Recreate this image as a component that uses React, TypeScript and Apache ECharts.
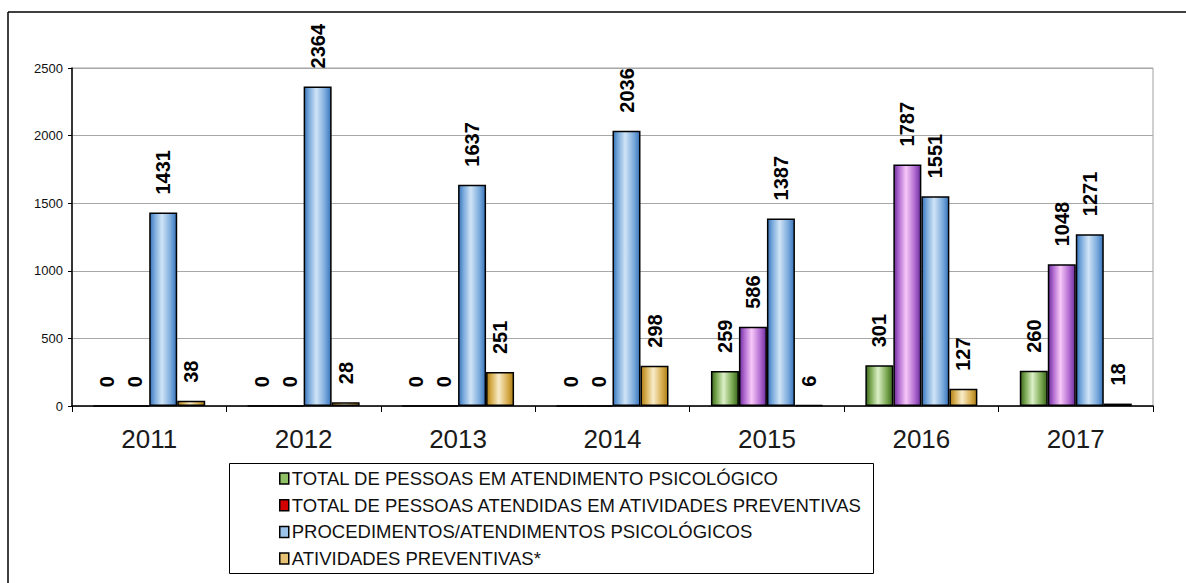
import React, { useEffect, useRef } from "react";
import * as echarts from "echarts";

const categories = ["2011", "2012", "2013", "2014", "2015", "2016", "2017"];
const seriesNames = [
  "TOTAL DE PESSOAS EM ATENDIMENTO PSICOLÓGICO",
  "TOTAL DE PESSOAS ATENDIDAS EM ATIVIDADES PREVENTIVAS",
  "PROCEDIMENTOS/ATENDIMENTOS PSICOLÓGICOS",
  "ATIVIDADES PREVENTIVAS*",
];
const totalAtendimento = [0, 0, 0, 0, 259, 301, 260];
const totalPreventivas = [0, 0, 0, 0, 586, 1787, 1048];
const procedimentos = [1431, 2364, 1637, 2036, 1387, 1551, 1271];
const atividades = [38, 28, 251, 298, 6, 127, 18];
const yTicks = { min: 0, max: 2500, interval: 500 };

const FONT = "'Liberation Sans', Arial, sans-serif";

function grad(dark: string, mid: string, light: string) {
  return new echarts.graphic.LinearGradient(0, 0, 1, 0, [
    { offset: 0, color: dark },
    { offset: 0.18, color: mid },
    { offset: 0.45, color: light },
    { offset: 0.78, color: mid },
    { offset: 1, color: dark },
  ]);
}

const barStyles = [
  grad("#3b661d", "#7aa851", "#dcf0c8"),
  grad("#6e2e9c", "#b06ad0", "#f8c8f8"),
  grad("#3874ba", "#7aaadc", "#d0e4f6"),
  grad("#ad7e15", "#d8ae50", "#f8ecca"),
];
const legendColors = ["#8fc064", "#d40000", "#9cc4ea", "#e8c274"];

export default function App() {
  const ref = useRef<HTMLDivElement>(null);
  useEffect(() => {
    if (!ref.current) return;
    const chart = echarts.init(ref.current, null, { renderer: "svg" });
    const datasets = [totalAtendimento, totalPreventivas, procedimentos, atividades];
    chart.setOption({
      animation: false,
      backgroundColor: "#ffffff",
      textStyle: { fontFamily: FONT },
      grid: {
        left: 72,
        right: 33,
        top: 68,
        bottom: 177,
        show: true,
        borderColor: "#a0a0a0",
        borderWidth: 1,
      },
      legend: {
        orient: "vertical",
        left: 279,
        top: 469,
        icon: "rect",
        itemWidth: 9,
        itemHeight: 11,
        itemGap: 7.7,
        padding: 0,
        selectedMode: false,
        textStyle: { fontSize: 18.5, fontFamily: FONT, color: "#111", padding: [0, 0, 0, -2], lineHeight: 18 },
        data: seriesNames.map((n, i) => ({
          name: n,
          itemStyle: { color: legendColors[i], borderColor: "#000", borderWidth: 1.5 },
        })),
      },
      xAxis: {
        type: "category",
        data: categories,
        axisLine: { lineStyle: { color: "#000", width: 1.5 } },
        axisTick: { show: true, length: 6, lineStyle: { color: "#000" } },
        axisLabel: { fontSize: 26, color: "#1a1a1a", margin: 20, fontFamily: FONT },
      },
      yAxis: {
        type: "value",
        min: yTicks.min,
        max: yTicks.max,
        interval: yTicks.interval,
        axisLine: { show: true, lineStyle: { color: "#000", width: 1.5 } },
        axisTick: { show: true, length: 4, lineStyle: { color: "#000" } },
        axisLabel: {
          fontSize: 13,
          color: "#111",
          margin: 9,
          fontFamily: FONT,
          formatter: (v: number) => String(v),
        },
        splitLine: { lineStyle: { color: "#a8a8a8", width: 1 } },
      },
      series: seriesNames.map((n, i) => ({
        name: n,
        type: "bar",
        data: datasets[i],
        barWidth: 28,
        barGap: "0%",
        itemStyle: { color: barStyles[i], borderColor: "#000", borderWidth: 1.5 },
        label: {
          show: true,
          position: "top",
          rotate: 90,
          align: "left",
          verticalAlign: "middle",
          distance: 18,
          fontSize: 20,
          fontWeight: "bold",
          color: "#000",
          fontFamily: FONT,
        },
      })),
      graphic: [
        { type: "line", shape: { x1: 8, y1: 12, x2: 1186, y2: 12 }, style: { stroke: "#000", lineWidth: 1.5 } },
        { type: "line", shape: { x1: 8, y1: 12, x2: 8, y2: 583 }, style: { stroke: "#000", lineWidth: 1.5 } },
        {
          type: "rect",
          shape: { x: 229.5, y: 463.5, width: 644, height: 110 },
          style: { fill: "none", stroke: "#000", lineWidth: 1 },
        },
      ],
    });
    return () => chart.dispose();
  }, []);
  return (
    <div
      ref={ref}
      style={{ position: "fixed", left: 0, top: 0, width: 1186, height: 583 }}
    />
  );
}
